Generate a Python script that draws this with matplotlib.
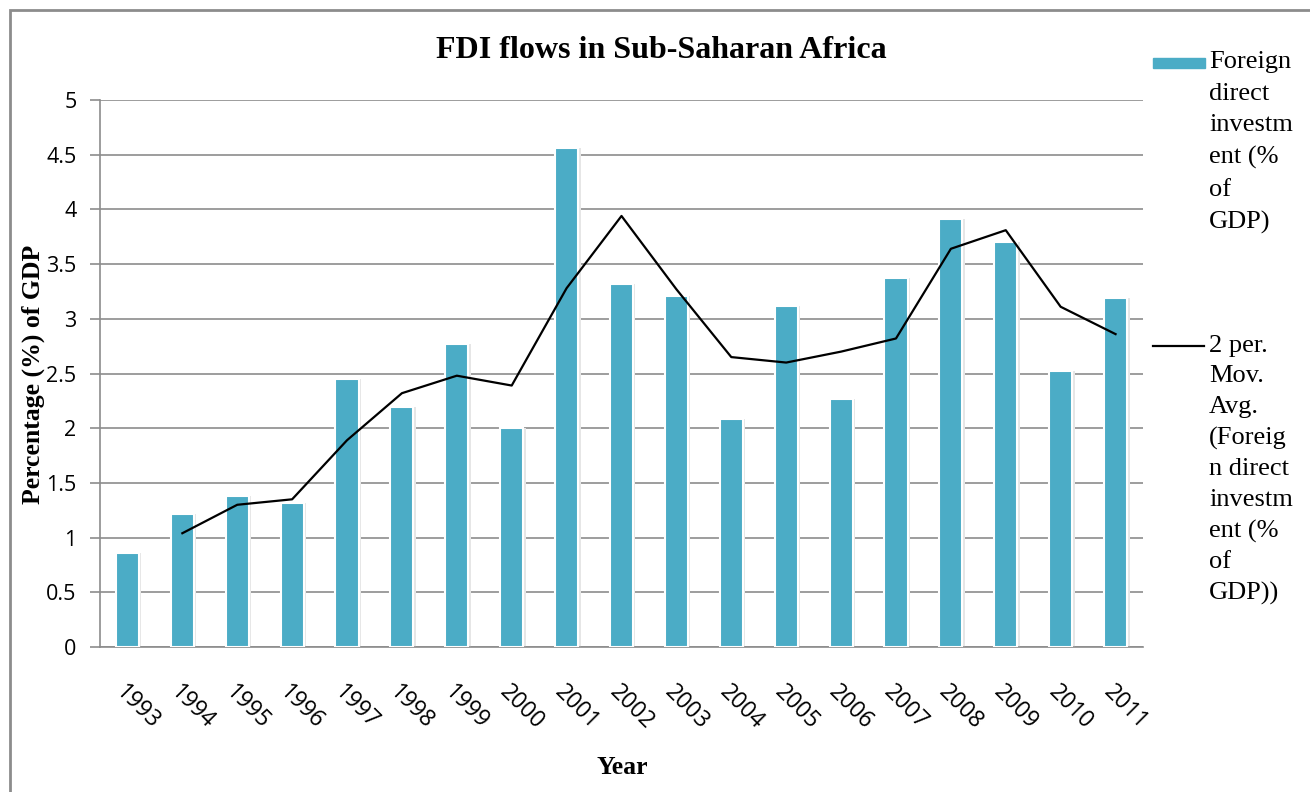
import matplotlib.pyplot as plt
from matplotlib.patches import Rectangle
from matplotlib.lines import Line2D

# FDI flows in Sub-Saharan Africa, % of GDP, with 2-period moving average

years = ['1993', '1994', '1995', '1996', '1997', '1998', '1999', '2000', '2001', '2002',
         '2003', '2004', '2005', '2006', '2007', '2008', '2009', '2010', '2011']
fdi = [0.86, 1.22, 1.38, 1.32, 2.45, 2.19, 2.77, 2.00, 4.56, 3.32,
       3.21, 2.08, 3.12, 2.27, 3.37, 3.91, 3.70, 2.52, 3.19]
# moving average (starts at 1994)
mov_avg = [1.04, 1.30, 1.35, 1.89, 2.32, 2.48, 2.39, 3.28, 3.94,
           3.27, 2.65, 2.60, 2.70, 2.82, 3.64, 3.81, 3.11, 2.86]

bar_color = '#4BACC6'
grid_color = '#8c8c8c'
serif = 'Liberation Serif'
sans = 'Open Sans'

fig = plt.figure(figsize=(13.1, 7.92), dpi=100)
ax = fig.add_axes([100 / 1310, 1 - 647 / 792, 1043 / 1310, 547 / 792])

x = list(range(len(years)))
# soft shadow behind each bar
ax.bar([i + 0.02 for i in x], fdi, width=0.47, color='#e6e6e6', zorder=2)
ax.bar(x, fdi, width=0.42, color=bar_color, edgecolor='white', linewidth=1.5, zorder=3)
ax.plot(x[1:], mov_avg, color='black', linewidth=1.6, zorder=4)

ax.set_xlim(-0.5, len(years) - 0.5)
ax.set_ylim(0, 5)
ax.set_yticks([0, 0.5, 1, 1.5, 2, 2.5, 3, 3.5, 4, 4.5, 5])
ax.set_yticklabels(['0', '0.5', '1', '1.5', '2', '2.5', '3', '3.5', '4', '4.5', '5'],
                   fontsize=15.5, family=sans)
ax.set_xticks(x)
ax.set_xticklabels(years, rotation=-45, ha='left', va='top', rotation_mode='anchor',
                   fontsize=16.5, family=sans)
ax.tick_params(axis='x', length=0, pad=24)
ax.tick_params(axis='y', length=7, color=grid_color, width=1.2, pad=10)
ax.yaxis.grid(True, color=grid_color, linewidth=1.2, zorder=0)
ax.set_axisbelow(True)
for side in ['top', 'right']:
    ax.spines[side].set_visible(False)
for side in ['left', 'bottom']:
    ax.spines[side].set_color(grid_color)
    ax.spines[side].set_linewidth(1.2)

fig.text(661 / 1310, 1 - 50 / 792, 'FDI flows in Sub-Saharan Africa', ha='center', va='center',
         fontsize=23, fontweight='bold', family=serif)
fig.text(33 / 1310, 1 - 374 / 792, 'Percentage (%) of GDP', ha='center', va='center',
         rotation=90, fontsize=18.5, fontweight='bold', family=serif)
fig.text(622 / 1310, 1 - 768 / 792, 'Year', ha='center', va='center',
         fontsize=18.5, fontweight='bold', family=serif)

# legend drawn by hand so the keys line up with the first text line
fig.add_artist(Rectangle((1153 / 1310, 1 - 68 / 792), 52 / 1310, 10 / 792,
                         transform=fig.transFigure, color=bar_color))
fig.add_artist(Line2D([1153 / 1310, 1204 / 1310], [1 - 346 / 792, 1 - 346 / 792],
                      transform=fig.transFigure, color='black', linewidth=1.6))
fig.text(1209 / 1310, 1 - 51 / 792, 'Foreign\ndirect\ninvestm\nent (%\nof\nGDP)',
         ha='left', va='top', fontsize=19, family=serif, linespacing=1.56)
fig.text(1209 / 1310, 1 - 335 / 792,
         '2 per.\nMov.\nAvg.\n(Foreig\nn direct\ninvestm\nent (%\nof\nGDP))',
         ha='left', va='top', fontsize=19, family=serif, linespacing=1.5)

# outer chart border
fig.add_artist(Rectangle((10 / 1310, -0.05), 1.2, 1 - 10 / 792 + 0.05,
                         transform=fig.transFigure, fill=False, edgecolor='#8c8c8c', linewidth=2))

fig.savefig('out.png', dpi=100)
